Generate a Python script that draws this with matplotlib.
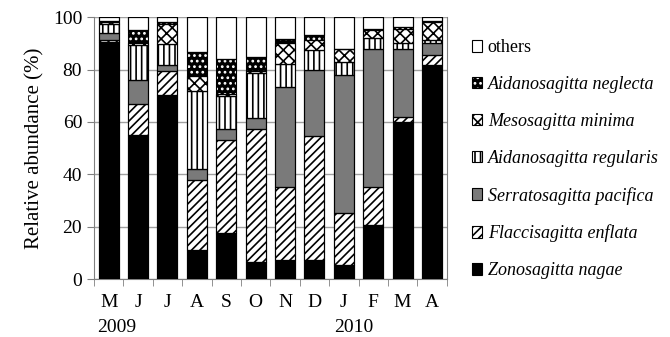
import numpy as np
import matplotlib.pyplot as plt
from matplotlib.patches import Patch

plt.rcParams['font.family'] = ['Liberation Serif', 'DejaVu Serif']
plt.rcParams['hatch.linewidth'] = 1.2

months = ["M", "J", "J", "A", "S", "O", "N", "D", "J", "F", "M", "A"]

# segment values (%) per month
nagae     = [90.6, 55.0, 70.2, 11.1, 17.4,  6.6,  7.3,  7.3,  5.3, 20.6, 59.8, 81.7]
enflata   = [ 0.7, 11.7,  9.3, 26.9, 35.7, 50.7, 27.7, 47.3, 19.8, 14.4,  2.1,  3.8]
pacifica  = [ 2.5,  9.5,  2.2,  3.9,  4.4,  4.4, 38.4, 25.4, 52.8, 53.0, 26.1,  4.5]
regularis = [ 3.8, 13.1,  8.0, 30.0, 12.3, 17.1,  8.9,  7.4,  4.9,  3.9,  2.0,  1.5]
minima    = [ 0.6,  1.0,  7.6,  5.6,  0.7,  0.7,  7.9,  3.8,  4.9,  3.4,  5.7,  6.7]
neglecta  = [ 0.4,  5.0,  1.0,  9.3, 13.4,  5.4,  1.5,  1.9,  0.3,  0.3,  0.6,  0.5]
others    = [ 1.4,  4.7,  1.7, 13.2, 16.1, 15.1,  8.3,  6.9, 12.0,  4.4,  3.7,  1.3]

series = [
    ("Zonosagitta nagae", nagae, dict(facecolor="black", edgecolor="black", hatch=None), True),
    ("Flaccisagitta enflata", enflata, dict(facecolor="white", edgecolor="black", hatch="////"), True),
    ("Serratosagitta pacifica", pacifica, dict(facecolor="#7a7a7a", edgecolor="black", hatch=None), True),
    ("Aidanosagitta regularis", regularis, dict(facecolor="white", edgecolor="black", hatch="|||"), True),
    ("Mesosagitta minima", minima, dict(facecolor="white", edgecolor="black", hatch="xxx"), True),
    ("Aidanosagitta neglecta", neglecta, dict(facecolor="black", edgecolor="white", hatch="..."), True),
    ("others", others, dict(facecolor="white", edgecolor="black", hatch=None), False),
]

fig = plt.figure(figsize=(6.7, 3.37), dpi=100)
ax = fig.add_axes([0.1403, 0.172, 0.5264, 0.7768])

x = np.arange(len(months))
w = 0.68
bottom = np.zeros(len(months))
handles = []
for name, vals, st, italic in series:
    vals = np.array(vals)
    ax.bar(x, vals, w, bottom=bottom, facecolor=st["facecolor"], edgecolor=st["edgecolor"],
           hatch=st["hatch"], linewidth=0 if st["edgecolor"] == "white" else 0.8, zorder=3)
    # outline
    ax.bar(x, vals, w, bottom=bottom, fill=False, edgecolor="black", linewidth=0.8, zorder=4)
    bottom += vals
    p1 = Patch(facecolor=st["facecolor"], edgecolor=st["edgecolor"], hatch=st["hatch"], linewidth=0)
    p2 = Patch(fill=False, edgecolor="black", linewidth=0.8)
    handles.append(((p1, p2), name, italic))

ax.set_xlim(-0.5, len(months) - 0.5)
ax.set_ylim(0, 100)
ax.set_yticks(range(0, 101, 20))
ax.set_xticks(x)
ax.set_xticklabels(months)
ax.set_xticks(np.arange(-0.5, len(months)), minor=True)
ax.tick_params(axis="x", which="major", length=0, labelsize=14, pad=11)
ax.tick_params(axis="x", which="minor", length=5, color="#808080", direction="out")
ax.tick_params(axis="y", labelsize=14, length=5, color="#808080", direction="out")
ax.yaxis.grid(True, color="#a0a0a0", linewidth=1.0, zorder=0)
ax.set_axisbelow(True)
ax.spines["top"].set_visible(False)
for s in ["left", "bottom", "right"]:
    ax.spines[s].set_color("#808080")
ax.set_ylabel("Relative abundance (%)", fontsize=15, labelpad=6)

fig.text(0.145, 0.014, "2009", fontsize=14, ha="left", va="baseline")
fig.text(0.528, 0.014, "2010", fontsize=14, ha="center", va="baseline")

leg = fig.legend([h[0] for h in handles[::-1]], [h[1] for h in handles[::-1]],
                 loc="upper left", bbox_to_anchor=(0.693, 0.905), frameon=False,
                 fontsize=13, handlelength=0.6, handleheight=0.6, handletextpad=0.3,
                 labelspacing=1.1, borderaxespad=0)
for t, h in zip(leg.get_texts(), handles[::-1]):
    if h[2]:
        t.set_fontstyle("italic")

fig.savefig("out.png", dpi=100)
